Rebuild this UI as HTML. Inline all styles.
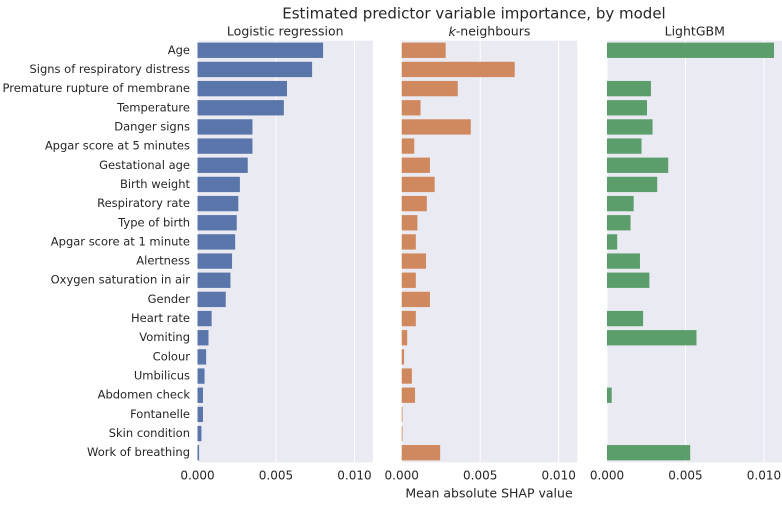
<!DOCTYPE html>
<html><head><meta charset="utf-8"><style>
body{margin:0;background:#fff;}
svg text{font-family:"DejaVu Sans","Liberation Sans",sans-serif;fill:#262626;}
</style></head><body>
<svg id="c" width="782" height="502" xmlns="http://www.w3.org/2000/svg">
<text x="474" y="14" font-size="15" text-anchor="middle" dominant-baseline="middle">Estimated predictor variable importance, by model</text>
<text x="489" y="494" font-size="12.5" text-anchor="middle" dominant-baseline="middle">Mean absolute SHAP value</text>
</svg>
<script>
const categories=["Age","Signs of respiratory distress","Premature rupture of membrane","Temperature","Danger signs","Apgar score at 5 minutes","Gestational age","Birth weight","Respiratory rate","Type of birth","Apgar score at 1 minute","Alertness","Oxygen saturation in air","Gender","Heart rate","Vomiting","Colour","Umbilicus","Abdomen check","Fontanelle","Skin condition","Work of breathing"];
const logregValues=[0.0080,0.0073,0.0057,0.0055,0.0035,0.0035,0.0032,0.0027,0.0026,0.0025,0.0024,0.0022,0.0021,0.0018,0.0009,0.0007,0.00055,0.00045,0.00035,0.00035,0.00025,0.0001];
const knnValues=[0.0028,0.0072,0.00357,0.0012,0.0044,0.0008,0.0018,0.0021,0.0016,0.001,0.0009,0.00155,0.0009,0.0018,0.0009,0.00035,0.00015,0.00065,0.00085,0.00005,0.00005,0.00245];
const lgbmValues=[0.01064,0,0.0028,0.00255,0.0029,0.0022,0.0039,0.0032,0.0017,0.0015,0.00065,0.0021,0.0027,0,0.0023,0.0057,0,0,0.0003,0,0,0.0053];
const tickValues=[0,0.005,0.01];
const tickLabels=["0.000","0.005","0.010"];
const panelTitles=["Logistic regression","k-neighbours","LightGBM"];

const svg=document.getElementById('c');
const NS="http://www.w3.org/2000/svg";
function mk(t,a){const e=document.createElementNS(NS,t);for(const k in a)e.setAttribute(k,a[k]);svg.appendChild(e);return e;}
const axTop=40.7,axBottom=462.3,xmax=0.01118,W=175.5;
const lefts=[197.5,401.7,607];
const colors=["#5975a9","#d0895f","#5b9e6c"];
const series=[logregValues,knnValues,lgbmValues];
const step=(axBottom-axTop)/categories.length;
function yPos(i){return axTop+step*i;}
series.forEach((vals,p)=>{
  const x0=lefts[p];
  const xs=v=>x0+v/xmax*W;
  const bg=mk('rect',{x:x0,y:axTop,width:W,height:axBottom-axTop,fill:'#eaeaf2'});
  
  
  tickValues.forEach((t,k)=>{
    const g=mk('line',{x1:xs(t),x2:xs(t),y1:axTop,y2:axBottom,stroke:'#fff','stroke-width':1});
    
    
    const tl=mk('text',{x:xs(t),y:476,'font-size':12,'text-anchor':'middle','dominant-baseline':'middle'});
    tl.textContent=tickLabels[k];
    
    
  });
  vals.forEach((v,i)=>{
    if(v<=0)return;
    const r=mk('rect',{x:x0,y:yPos(i)+step*0.1,width:xs(v)-x0,height:step*0.8,fill:colors[p]});
    
    
  });
  const tt=mk('text',{x:x0+W/2,y:32,'font-size':12.5,'text-anchor':'middle','dominant-baseline':'middle'});
  if(p===1){const s=document.createElementNS(NS,'tspan');s.setAttribute('font-style','italic');s.textContent='k';tt.appendChild(s);tt.appendChild(document.createTextNode('-neighbours'));}
  else tt.textContent=panelTitles[p];
  
  
});
categories.forEach((c,i)=>{
  const t=mk('text',{x:190,y:yPos(i)+step/2,'font-size':11.5,'text-anchor':'end','dominant-baseline':'middle'});
  t.textContent=c;
  
  
});
</script>
</body></html>
